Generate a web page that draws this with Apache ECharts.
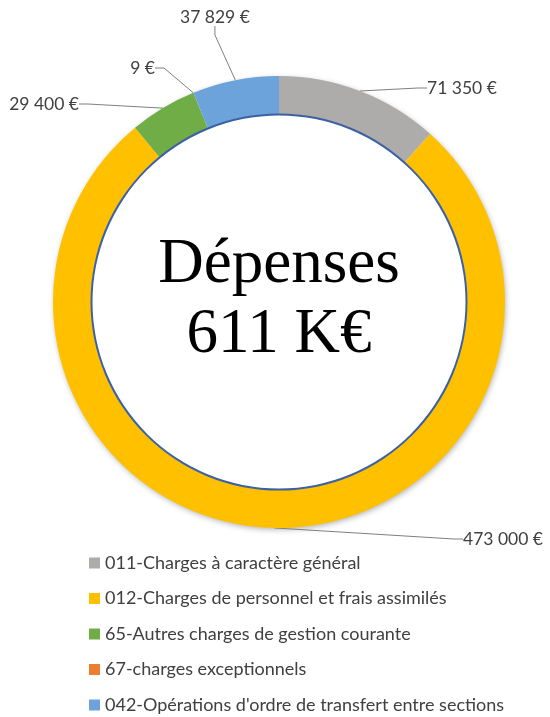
<!DOCTYPE html>
<html>
<head>
<meta charset="utf-8">
<script src="https://cdn.jsdelivr.net/npm/echarts@6/dist/echarts.min.js"></script>
<style>
html,body{margin:0;padding:0;background:#fff;}
#chart{width:550px;height:717px;}
</style>
</head>
<body>
<div id="chart"></div>
<script>
const categories = [
  '011-Charges à caractère général',
  '012-Charges de personnel et frais assimilés',
  '65-Autres charges de gestion courante',
  '67-charges exceptionnels',
  "042-Opérations d'ordre de transfert entre sections"
];
const values = [71350, 473000, 29400, 9, 37829];
const colors = ['#AEABAB', '#FFC000', '#70AD47', '#ED7D31', '#6BA3DA'];
const centerLines = ['Dépenses', '611 K€'];

// label placement (layout only)
const labelPlace = [
  {x: 427, y: 88, align: 'left'},
  {x: 463, y: 539, align: 'left'},
  {x: 79, y: 104, align: 'right'},
  {x: 155, y: 68, align: 'right'},
  {x: 180, y: 17, align: 'left'}
];

function fmt(v) {
  return String(v).replace(/\B(?=(\d{3})+(?!\d))/g, '\u00a0') + '\u00a0€';
}

const total = values.reduce((a, b) => a + b, 0);
const font = 'Lato';

const chart = echarts.init(document.getElementById('chart'), null, {renderer: 'canvas'});
chart.setOption({
  animation: false,
  backgroundColor: '#fff',
  color: colors,
  legend: {
    data: categories,
    orient: 'vertical',
    left: 89,
    top: 553,
    height: 200,
    padding: 0,
    itemWidth: 11,
    itemHeight: 11,
    itemGap: 15.5,
    icon: 'rect',
    selectedMode: false,
    textStyle: {fontFamily: font, fontSize: 18, lineHeight: 20, color: '#404040'}
  },
  graphic: [{
    type: 'text',
    x: 279,
    y: 300,
    silent: true,
    style: {
      text: centerLines.join('\n'),
      textAlign: 'center',
      textVerticalAlign: 'middle',
      fontFamily: 'Liberation Serif',
      fontSize: 63,
      lineHeight: 70,
      fill: '#000'
    }
  }],
  series: [
    {
      type: 'pie',
      silent: true,
      center: [279, 302],
      radius: [200, 225],
      startAngle: 90,
      label: {show: false},
      labelLine: {show: false},
      itemStyle: {color: '#fff', shadowBlur: 6, shadowColor: 'rgba(0,0,0,0.35)', shadowOffsetX: 1, shadowOffsetY: 2},
      data: [{value: total}],
      z: 1
    },
    {
      type: 'pie',
      center: [279, 302],
      radius: [188, 226],
      startAngle: 90,
      clockwise: true,
      avoidLabelOverlap: false,
      silent: true,
      label: {
        show: true,
        position: 'outside',
        fontFamily: font,
        fontSize: 17.5,
        color: '#404040',
        formatter: p => fmt(p.value)
      },
      labelLine: {show: true, length: 10, length2: 9, minTurnAngle: 60, lineStyle: {color: '#7F7F7F', width: 1}},
      labelLayout: function (params) {
        const p = labelPlace[params.dataIndex];
        return {x: p.x, y: p.y, align: p.align, verticalAlign: 'middle'};
      },
      itemStyle: {borderWidth: 0},
      data: categories.map((c, i) => {
        const d = {name: c, value: values[i], itemStyle: {color: colors[i]}};
        if (i === 4) d.label = {padding: [0, 42, 0, 0]};
        return d;
      }),
      z: 2
    },
    {
      type: 'pie',
      silent: true,
      center: [279, 302],
      radius: [186.5, 188.5],
      startAngle: 90,
      label: {show: false},
      labelLine: {show: false},
      itemStyle: {color: '#3B60A3'},
      data: [{value: total}],
      z: 3
    }
  ]
});
</script>
</body>
</html>
